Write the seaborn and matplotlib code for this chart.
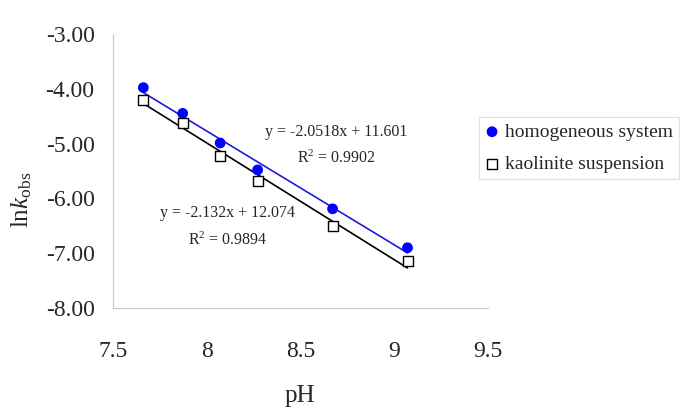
import numpy as np
import pandas as pd
import matplotlib
matplotlib.use("Agg")
import matplotlib.pyplot as plt
import seaborn as sns

# values
ph = [7.66, 7.87, 8.07, 8.27, 8.67, 9.07]
lnk_homogeneous = [-3.98, -4.45, -4.99, -5.48, -6.19, -6.90]
lnk_kaolinite = [-4.20, -4.62, -5.22, -5.69, -6.51, -7.14]
series_names = ["homogeneous system", "kaolinite suspension"]
eq_texts = [("y = -2.0518x + 11.601", r"R$^{2}$ = 0.9902"),
            ("y = -2.132x + 12.074", r"R$^{2}$ = 0.9894")]
x_ticks = [7.5, 8, 8.5, 9, 9.5]
y_ticks = [-3, -4, -5, -6, -7, -8]

sns.set_style("white")
plt.rcParams["font.family"] = ["Liberation Serif", "DejaVu Serif"]
plt.rcParams["mathtext.fontset"] = "custom"
plt.rcParams["mathtext.rm"] = "Liberation Serif"
plt.rcParams["mathtext.it"] = "Liberation Serif:italic"
plt.rcParams["axes.unicode_minus"] = False

df = pd.DataFrame({"pH": ph, "homog": lnk_homogeneous, "kaol": lnk_kaolinite})

fig = plt.figure(figsize=(6.85, 4.13), dpi=100)
ax = fig.add_axes([0.1655, 0.254, 0.547, 0.664])

grey = "#c8c8c8"

sns.regplot(data=df, x="pH", y="homog", ci=None, ax=ax, marker="o",
            label=series_names[0],
            scatter_kws=dict(color="#0000ff", s=60, edgecolor="none",
                             alpha=1, zorder=3),
            line_kws=dict(color="#1a1adc", lw=1.2, zorder=2))
sns.regplot(data=df, x="pH", y="kaol", ci=None, ax=ax, marker="s",
            label=series_names[1],
            scatter_kws=dict(color="white", s=55, edgecolor="black",
                             linewidths=1.0, alpha=1, zorder=4),
            line_kws=dict(color="black", lw=1.2, zorder=2))

ax.set_xlim(7.5, 9.5)
ax.set_ylim(-8, -3)
ax.set_xticks(x_ticks)
ax.set_xticklabels([f"{t:g}" for t in x_ticks])
ax.set_yticks(y_ticks)
ax.set_yticklabels([f"{t:.2f}" for t in y_ticks])
ax.tick_params(axis="both", direction="inout", length=11, width=0.8,
               color=grey, labelsize=17)
ax.tick_params(axis="x", pad=18)
ax.tick_params(axis="y", pad=8)

for side in ["top", "right"]:
    ax.spines[side].set_visible(False)
for side in ["left", "bottom"]:
    ax.spines[side].set_color(grey)
    ax.spines[side].set_linewidth(0.8)

ax.set_xlabel("")
ax.set_ylabel("")
fig.text(300 / 685, 1 - 396 / 413, "pH", ha="center", va="center", fontsize=18)
fig.text(22 / 685, 1 - 200 / 413, r"ln$k$$_{\rm obs}$", rotation=90,
         ha="center", va="center", fontsize=18)

# trendline annotations
ax.text(8.69, -4.79, eq_texts[0][0], ha="center", va="center", fontsize=11.5)
ax.text(8.69, -5.27, eq_texts[0][1], ha="center", va="center", fontsize=11.5)
ax.text(8.11, -6.27, eq_texts[1][0], ha="center", va="center", fontsize=11.5)
ax.text(8.11, -6.76, eq_texts[1][1], ha="center", va="center", fontsize=11.5)

leg = ax.legend(loc="upper left", bbox_to_anchor=(479 / 685, 1 - 117 / 413),
                bbox_transform=fig.transFigure, borderaxespad=0, fontsize=14,
                frameon=True, fancybox=False, edgecolor="#d8d8d8",
                handletextpad=0.3, handlelength=0.7, labelspacing=0.75,
                borderpad=0.32)
leg.get_frame().set_linewidth(0.8)

fig.savefig("out.png", dpi=100)
